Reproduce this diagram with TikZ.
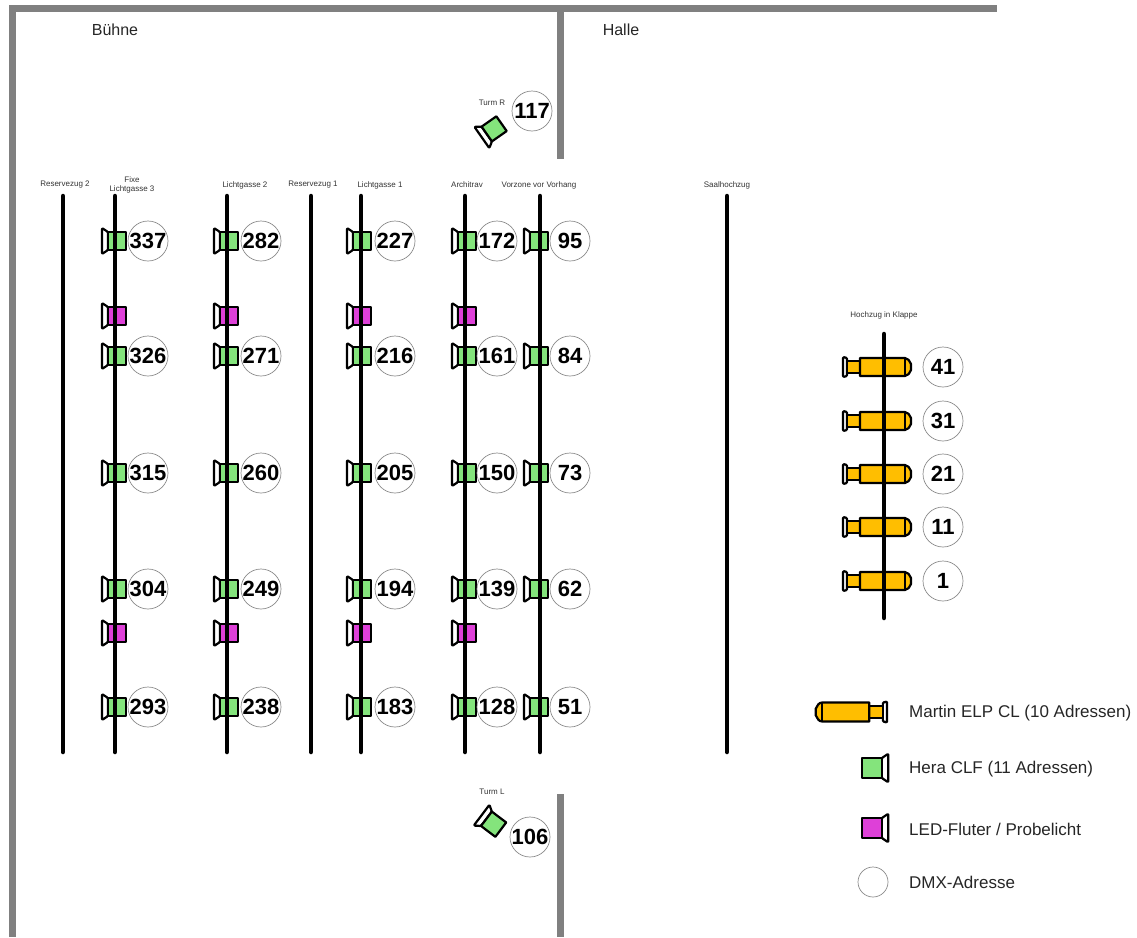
\documentclass[tikz,border=0pt]{standalone}
\usepackage{fontspec}
\setmainfont{Liberation Sans}
\definecolor{heraGreen}{HTML}{84E47C}
\definecolor{fluterPink}{HTML}{DE40D8}
\definecolor{elpOrange}{HTML}{FFBE00}
\definecolor{wallGray}{HTML}{808080}
\tikzset{
  wall/.style={wallGray,line width=7pt},
  zug/.style={black,line width=4.5pt,line cap=round},
  dmx/.style={circle,draw=black!45,fill=white,line width=0.7pt,minimum size=40pt,inner sep=0pt,font=\bfseries\fontsize{22}{22}\selectfont},
  zugname/.style={font=\fontsize{8}{9.5}\selectfont,text=black!80,align=center,inner sep=0pt},
  raum/.style={font=\fontsize{16}{18}\selectfont,text=black!85,inner sep=0pt},
  legende/.style={font=\fontsize{17}{18}\selectfont,text=black!85,inner sep=0pt,anchor=west},
  teil/.style={draw=black,line width=2.2pt,line join=round},
  pics/lampe/.style={code={
    \draw[teil,fill=white,rounded corners=1pt] (-7,-9)--(-13,-13)--(-13,13)--(-7,9)--cycle;
    \draw[teil,fill=#1] (-7,-9) rectangle (11,9);
  }},
  pics/elp/.style={code={
    \draw[teil,fill=white,rounded corners=1pt] (-37,-9)--(-41,-10)--(-41,10)--(-37,9)--cycle;
    \draw[teil,fill=elpOrange] (-37,-6) rectangle (-24,6);
    \draw[teil,fill=elpOrange] (-24,-9) -- (21,-9) to[out=0,in=120] (27,-3) -- (27,3) to[out=-120,in=0] (21,9) -- (-24,9) -- cycle;
    \draw[teil] (21,-9) -- (21,9);
  }}
}
\begin{document}
\begin{tikzpicture}[x=1pt,y=-1pt]
\useasboundingbox (0,0) rectangle (1137,937);
\draw[wall] (12,937)--(12,8)--(997,8);
\draw[wall] (560,8)--(560,159);
\draw[wall] (560,794)--(560,937);
\node[raum] (buehne) at (115,30) {Bühne};
\node[raum] (halle) at (621,30) {Halle};
\foreach \lx/\cx/\a/\b/\c/\d/\e in {115/148/337/326/315/304/293,227/261/282/271/260/249/238,360/395/227/216/205/194/183,465/497/172/161/150/139/128,537/570/95/84/73/62/51}{
  \pic at (\lx,241) {lampe=heraGreen};
  \pic at (\lx,356) {lampe=heraGreen};
  \pic at (\lx,473) {lampe=heraGreen};
  \pic at (\lx,589) {lampe=heraGreen};
  \pic at (\lx,707) {lampe=heraGreen};
  \node[dmx] (d\a) at (\cx,241) {\a};
  \node[dmx] (d\b) at (\cx,356) {\b};
  \node[dmx] (d\c) at (\cx,473) {\c};
  \node[dmx] (d\d) at (\cx,589) {\d};
  \node[dmx] (d\e) at (\cx,707) {\e};
}
\foreach \lx in {115,227,360,465}{
  \pic at (\lx,316) {lampe=fluterPink};
  \pic at (\lx,633) {lampe=fluterPink};
}
\foreach \y/\a in {367/41,421/31,474/21,527/11,581/1}{
  \pic at (884,\y) {elp};
  \node[dmx] (d\a) at (943,\y) {\a};
}
\foreach \lx in {63,115,227,311,361,465,540,727}{
  \draw[zug] (\lx,196)--(\lx,752);
}
\draw[zug] (884,334)--(884,618);
\foreach \lx/\txt in {65/Reservezug 2,245/Lichtgasse 2,313/Reservezug 1,380/Lichtgasse 1,467/Architrav,539/Vorzone vor Vorhang,727/Saalhochzug}{
  \node[zugname] at (\lx,185) {\txt};
}
\node[zugname] (fixe) at (132,185) {Fixe\\Lichtgasse 3};
\node[zugname] (klappe) at (884,315) {Hochzug in Klappe};
\node[zugname] (turmr) at (492,103) {Turm R};
\node[zugname] (turml) at (492,792) {Turm L};
\pic[rotate=35] at (492.5,130) {lampe=heraGreen};
\node[dmx] (d117) at (532,111) {117};
\pic[rotate=-37] at (492,823) {lampe=heraGreen};
\node[dmx] (d106) at (530,837) {106};
\pic[xscale=-1.05,yscale=1.05] at (844,712) {elp};
\pic[rotate=180,scale=1.1] at (874,768) {lampe=heraGreen};
\pic[rotate=180,scale=1.1] at (874,828) {lampe=fluterPink};
\node[dmx,minimum size=30pt] (legdmx) at (873,882) {};
\node[legende] (legelp) at (909,713) {Martin ELP CL (10 Adressen)};
\node[legende] (leghera) at (909,769) {Hera CLF (11 Adressen)};
\node[legende] (legled) at (909,829) {LED-Fluter / Probelicht};
\node[legende] (legadr) at (909,882) {DMX-Adresse};
\end{tikzpicture}
\end{document}
